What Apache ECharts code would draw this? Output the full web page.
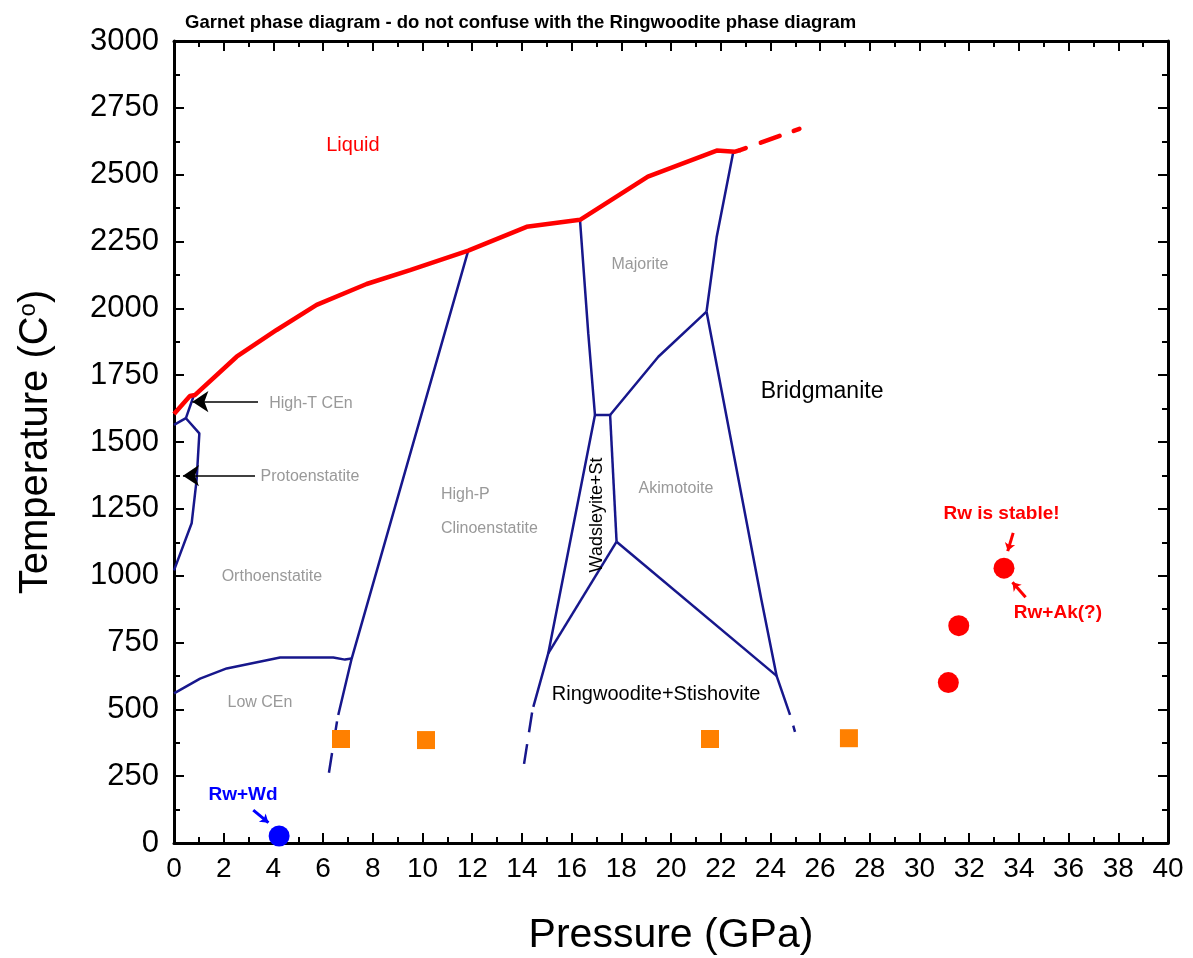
<!DOCTYPE html>
<html>
<head>
<meta charset="utf-8">
<script src="https://cdn.jsdelivr.net/npm/echarts@6/dist/echarts.min.js"></script>
<style>html,body{margin:0;padding:0;background:#fff}#c{width:1193px;height:958px}</style>
</head>
<body>
<div id="c"></div>
<script>
// ---- tick labels ----
const xTicks = [0,2,4,6,8,10,12,14,16,18,20,22,24,26,28,30,32,34,36,38,40];
const yTicks = [0,250,500,750,1000,1250,1500,1750,2000,2250,2500,2750,3000];

// ---- liquidus (red) ----
const liquidus = [[0,1605],[0.64,1672],[0.85,1676],[2.52,1819],[4.13,1919],[5.74,2013],[7.75,2091],[9.5,2143],[11.84,2216],[14.19,2305],[16.34,2331],[19.07,2493],[21.84,2590],[22.58,2586],[22.78,2592]];
const liquidusExtrap = [[22.78,2592],[25.73,2690]];

// ---- phase boundaries (navy) ----
const hiTLower = [[0,1564],[0.48,1589]];
const hiTRight = [[0.48,1589],[0.8,1675]];
const protoOrtho = [[0.48,1589],[1.02,1532],[0.91,1358],[0.71,1196],[0,1020]];
const lowOrtho = [[0,560],[1.05,615],[2.12,653],[4.27,694],[6.41,694],[6.88,686],[7.15,690]];
const orthoHPC = [[11.84,2216],[7.15,690],[6.61,479]];
const majWad = [[16.34,2328],[16.67,1907],[16.94,1601]];
const wadTop = [[16.94,1601],[17.55,1601]];
const majAk = [[17.55,1601],[19.49,1819],[21.43,1988]];
const majBdg = [[21.43,1988],[21.84,2268],[22.5,2582]];
const akBdg = [[21.43,1988],[23.64,909],[24.25,625],[24.79,479]];
const wadAk = [[17.55,1601],[17.81,1127]];
const akRwSt = [[17.81,1127],[24.25,625]];
const wadRwSt = [[17.81,1127],[15.06,709]];
const hpcWad = [[16.94,1601],[15.06,709],[14.46,509]];
// dashed extrapolations
const orthoHPCExt = [[6.56,455],[6.21,248]];
const hpcWadExt = [[14.41,488],[14.08,292]];
const akBdgExt = [[24.83,468],[24.99,416]];

// ---- experiments ----
const orangeSquares = [[6.72,389],[10.14,385],[21.57,389],[27.16,392]];
const redCircles = [[31.16,600],[31.58,813],[33.4,1028]];
const blueCircles = [[4.23,26]];

// ---- arrows [from, to] ----
const arrowHiT = [[3.38,1651],[0.74,1651]];
const arrowProto = [[3.26,1374],[0.36,1374]];
const arrowStable = [[33.77,1160],[33.55,1092]];
const arrowRwAk = [[34.27,919],[33.74,975]];
const arrowRwWd = [[3.19,123],[3.8,76]];

// ---- text labels: [P, T, text] ----
const grayLabels = [[7.2,2611,'Liquid'],[5.51,1642,'High-T CEn'],[5.47,1369,'Protoenstatite'],[3.94,995,'Orthoenstatite'],[3.46,524,'Low CEn'],[18.75,2162,'Majorite'],[20.2,1324,'Akimotoite']];
const hpcLabels = [[10.74,1302,'High-P'],[10.74,1175,'Clinoenstatite']];
const blackLabels = [[26.08,1687,'Bridgmanite'],[19.4,554,'Ringwoodite+Stishovite']];
const rotLabels = [[17.02,1227,'Wadsleyite+St']];
const redNotes = [[33.3,1233,'Rw is stable!'],[35.57,860,'Rw+Ak(?)']];
const blueNotes = [[2.78,180,'Rw+Wd']];

const NAVY = '#17178c';
const RED = '#ff0000';
const FONT = 'Liberation Sans, Arial, sans-serif';

function bline(d, dash) {
  return {type:'line', data:d, showSymbol:false, symbol:'none', silent:true, z:3,
    lineStyle:{color:NAVY, width:2.5, type: dash || 'solid'}, xAxisIndex:0, yAxisIndex:0};
}
function textSeries(arr, style) {
  return {type:'scatter', symbolSize:0, silent:true, z:6, xAxisIndex:0, yAxisIndex:0,
    itemStyle:{opacity:1},
    data: arr.map(a => ({value:[a[0],a[1]], name:a[2]})),
    label: Object.assign({show:true, position:'inside', formatter: p => p.name, fontFamily:FONT, opacity:1}, style)};
}
function arrow(d, color, width, size) {
  return {type:'lines', coordinateSystem:'cartesian2d', xAxisIndex:0, yAxisIndex:0, silent:true, z:5,
    symbol:['none','arrow'], symbolSize:size,
    lineStyle:{color:color, width:width, opacity:1, curveness:0},
    data:[{coords:d}]};
}

const series = [
  {type:'line', data:liquidus, showSymbol:false, symbol:'none', z:4, lineStyle:{color:RED, width:4.5}},
  {type:'line', data:liquidusExtrap, showSymbol:false, symbol:'none', z:4, lineStyle:{color:RED, width:4.5, type:[6,16,20,15], cap:'round'}},
  bline(hiTLower), bline(hiTRight), bline(protoOrtho), bline(lowOrtho), bline(orthoHPC),
  bline(majWad), bline(wadTop), bline(majAk), bline(majBdg), bline(akBdg), bline(wadAk),
  bline(akRwSt), bline(wadRwSt), bline(hpcWad),
  bline(orthoHPCExt,[20,12]), bline(hpcWadExt,[20,12]), bline(akBdgExt,[0,8,10,40]),
  {type:'scatter', data:orangeSquares, symbol:'rect', symbolSize:18, z:7, itemStyle:{color:'#ff8000', opacity:1}},
  {type:'scatter', data:redCircles, symbol:'circle', symbolSize:21, z:7, itemStyle:{color:RED, opacity:1}},
  {type:'scatter', data:blueCircles, symbol:'circle', symbolSize:21, z:7, itemStyle:{color:'#0000ff', opacity:1}},
  arrow(arrowHiT,'#000',1.5,[12,16]),
  arrow(arrowProto,'#000',1.5,[12,16]),
  arrow(arrowStable,RED,3,[8,8]),
  arrow(arrowRwAk,RED,3,[8,8]),
  arrow(arrowRwWd,'#0000ff',3,[8,8]),
  textSeries(grayLabels.slice(1), {color:'#999999', fontSize:16}),
  textSeries(grayLabels.slice(0,1), {color:RED, fontSize:20}),
  textSeries(hpcLabels, {color:'#999999', fontSize:16, align:'left'}),
  textSeries(blackLabels.slice(0,1), {color:'#000', fontSize:23}),
  textSeries(blackLabels.slice(1), {color:'#000', fontSize:20}),
  textSeries(rotLabels, {color:'#000', fontSize:18, rotate:90}),
  textSeries(redNotes, {color:RED, fontSize:19, fontWeight:'bold'}),
  textSeries(blueNotes, {color:'#0000ff', fontSize:19, fontWeight:'bold'})
];
series.forEach(s => { if (s.xAxisIndex === undefined) { s.xAxisIndex = 0; s.yAxisIndex = 0; } });

const axisLineStyle = {show:true, onZero:false, lineStyle:{color:'#000', width:3}};
const tickStyle = {inside:true, length:10, lineStyle:{width:2, color:'#000'}};
const minorStyle = {show:true, splitNumber:2, length:6, lineStyle:{width:2, color:'#000'}};
const chart = echarts.init(document.getElementById('c'), null, {renderer:'canvas'});
chart.setOption({
  animation:false,
  backgroundColor:'#fff',
  title:{text:'Garnet phase diagram - do not confuse with the Ringwoodite phase diagram', left:180, top:8,
    textStyle:{fontFamily:'Liberation Sans Narrow, Liberation Sans, Arial', fontWeight:'bold', fontSize:18.5, color:'#000'}},
  grid:{left:174, top:41, right:25, bottom:115, show:false, containLabel:false, outerBoundsMode:'none'},
  xAxis:[
    {type:'value', min:0, max:40, interval:2, position:'bottom',
     name:'Pressure (GPa)', nameLocation:'middle', nameGap:72,
     nameTextStyle:{fontFamily:FONT, fontSize:41, color:'#000'},
     axisLine:axisLineStyle, axisTick:tickStyle, minorTick:minorStyle,
     axisLabel:{fontFamily:FONT, fontSize:28, color:'#000', margin:12, formatter: v => xTicks.includes(v) ? String(v) : ''},
     splitLine:{show:false}},
    {type:'value', min:0, max:40, interval:2, position:'top',
     axisLine:axisLineStyle, axisTick:tickStyle, minorTick:minorStyle,
     axisLabel:{show:false}, splitLine:{show:false}}
  ],
  yAxis:[
    {type:'value', min:0, max:3000, interval:250, position:'left',
     name:'Temperature (C{s|o})', nameLocation:'middle', nameGap:118, nameRotate:90,
     nameTextStyle:{fontFamily:FONT, fontSize:40, color:'#000',
       rich:{s:{fontFamily:FONT, fontSize:24, color:'#000', verticalAlign:'top', padding:[0,0,14,0]}}},
     axisLine:axisLineStyle, axisTick:tickStyle, minorTick:minorStyle,
     axisLabel:{fontFamily:FONT, fontSize:31, color:'#000', margin:15, formatter: v => yTicks.includes(v) ? String(v) : ''},
     splitLine:{show:false}},
    {type:'value', min:0, max:3000, interval:250, position:'right',
     axisLine:axisLineStyle, axisTick:tickStyle, minorTick:minorStyle,
     axisLabel:{show:false}, splitLine:{show:false}}
  ],
  series: series
});
</script>
</body>
</html>
